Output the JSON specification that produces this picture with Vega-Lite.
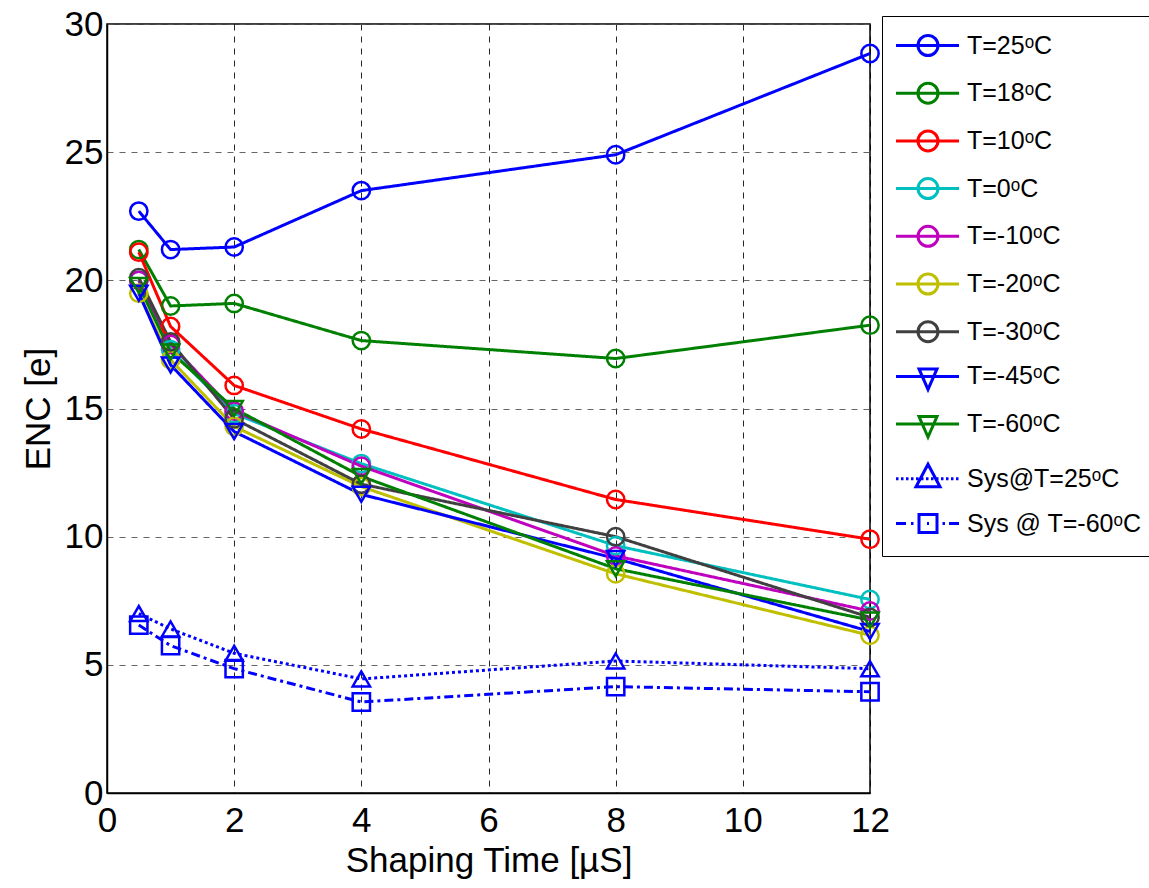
{
  "$schema": "https://vega.github.io/schema/vega-lite/v6.json",
  "width": 763,
  "height": 769,
  "autosize": {"type": "none"},
  "padding": {"left": 107, "top": 24, "right": 279, "bottom": 95},
  "background": "white",
  "config": {
    "font": "Liberation Sans",
    "view": {"stroke": "black", "strokeWidth": 1.5},
    "axis": {
      "labelFont": "Liberation Sans",
      "titleFont": "Liberation Sans",
      "labelFontSize": 35,
      "titleFontSize": 35,
      "titleFontWeight": "normal",
      "labelColor": "black",
      "titleColor": "black",
      "domainColor": "black",
      "domainWidth": 1.5,
      "ticks": false,
      "grid": true,
      "gridDash": [6, 6],
      "gridWidth": 1,
      "labelFlush": false,
      "format": "d"
    }
  },
  "data": {
    "values": [
      {"series": "T=25ᵒC", "t": 0.5, "enc": 22.7}, {"series": "T=25ᵒC", "t": 1, "enc": 21.2}, {"series": "T=25ᵒC", "t": 2, "enc": 21.3}, {"series": "T=25ᵒC", "t": 4, "enc": 23.5}, {"series": "T=25ᵒC", "t": 8, "enc": 24.9}, {"series": "T=25ᵒC", "t": 12, "enc": 28.85},
      {"series": "T=18ᵒC", "t": 0.5, "enc": 21.2}, {"series": "T=18ᵒC", "t": 1, "enc": 19.0}, {"series": "T=18ᵒC", "t": 2, "enc": 19.1}, {"series": "T=18ᵒC", "t": 4, "enc": 17.65}, {"series": "T=18ᵒC", "t": 8, "enc": 16.95}, {"series": "T=18ᵒC", "t": 12, "enc": 18.25},
      {"series": "T=10ᵒC", "t": 0.5, "enc": 21.1}, {"series": "T=10ᵒC", "t": 1, "enc": 18.2}, {"series": "T=10ᵒC", "t": 2, "enc": 15.9}, {"series": "T=10ᵒC", "t": 4, "enc": 14.2}, {"series": "T=10ᵒC", "t": 8, "enc": 11.45}, {"series": "T=10ᵒC", "t": 12, "enc": 9.9},
      {"series": "T=0ᵒC", "t": 0.5, "enc": 20.0}, {"series": "T=0ᵒC", "t": 1, "enc": 17.3}, {"series": "T=0ᵒC", "t": 2, "enc": 14.8}, {"series": "T=0ᵒC", "t": 4, "enc": 12.85}, {"series": "T=0ᵒC", "t": 8, "enc": 9.65}, {"series": "T=0ᵒC", "t": 12, "enc": 7.55},
      {"series": "T=-10ᵒC", "t": 0.5, "enc": 20.0}, {"series": "T=-10ᵒC", "t": 1, "enc": 17.5}, {"series": "T=-10ᵒC", "t": 2, "enc": 14.9}, {"series": "T=-10ᵒC", "t": 4, "enc": 12.75}, {"series": "T=-10ᵒC", "t": 8, "enc": 9.25}, {"series": "T=-10ᵒC", "t": 12, "enc": 7.1},
      {"series": "T=-20ᵒC", "t": 0.5, "enc": 19.5}, {"series": "T=-20ᵒC", "t": 1, "enc": 16.9}, {"series": "T=-20ᵒC", "t": 2, "enc": 14.3}, {"series": "T=-20ᵒC", "t": 4, "enc": 11.95}, {"series": "T=-20ᵒC", "t": 8, "enc": 8.55}, {"series": "T=-20ᵒC", "t": 12, "enc": 6.15},
      {"series": "T=-30ᵒC", "t": 0.5, "enc": 20.1}, {"series": "T=-30ᵒC", "t": 1, "enc": 17.6}, {"series": "T=-30ᵒC", "t": 2, "enc": 14.6}, {"series": "T=-30ᵒC", "t": 4, "enc": 12.05}, {"series": "T=-30ᵒC", "t": 8, "enc": 10.0}, {"series": "T=-30ᵒC", "t": 12, "enc": 6.85},
      {"series": "T=-45ᵒC", "t": 0.5, "enc": 19.5}, {"series": "T=-45ᵒC", "t": 1, "enc": 16.7}, {"series": "T=-45ᵒC", "t": 2, "enc": 14.1}, {"series": "T=-45ᵒC", "t": 4, "enc": 11.65}, {"series": "T=-45ᵒC", "t": 8, "enc": 9.15}, {"series": "T=-45ᵒC", "t": 12, "enc": 6.3},
      {"series": "T=-60ᵒC", "t": 0.5, "enc": 19.8}, {"series": "T=-60ᵒC", "t": 1, "enc": 17.2}, {"series": "T=-60ᵒC", "t": 2, "enc": 15.0}, {"series": "T=-60ᵒC", "t": 4, "enc": 12.35}, {"series": "T=-60ᵒC", "t": 8, "enc": 8.75}, {"series": "T=-60ᵒC", "t": 12, "enc": 6.75},
      {"series": "Sys@T=25ᵒC", "t": 0.5, "enc": 7.0}, {"series": "Sys@T=25ᵒC", "t": 1, "enc": 6.4}, {"series": "Sys@T=25ᵒC", "t": 2, "enc": 5.45}, {"series": "Sys@T=25ᵒC", "t": 4, "enc": 4.45}, {"series": "Sys@T=25ᵒC", "t": 8, "enc": 5.15}, {"series": "Sys@T=25ᵒC", "t": 12, "enc": 4.85},
      {"series": "Sys @ T=-60ᵒC", "t": 0.5, "enc": 6.55}, {"series": "Sys @ T=-60ᵒC", "t": 1, "enc": 5.75}, {"series": "Sys @ T=-60ᵒC", "t": 2, "enc": 4.85}, {"series": "Sys @ T=-60ᵒC", "t": 4, "enc": 3.55}, {"series": "Sys @ T=-60ᵒC", "t": 8, "enc": 4.15}, {"series": "Sys @ T=-60ᵒC", "t": 12, "enc": 3.95}
    ]
  },
  "layer": [
    {
      "mark": {"type": "line", "strokeWidth": 3},
      "encoding": {
        "x": {"field": "t", "type": "quantitative", "scale": {"domain": [0, 12], "nice": false}, "axis": {"values": [0, 2, 4, 6, 8, 10, 12], "title": "Shaping Time [µS]", "gridColor": "black", "gridOpacity": 0.85, "labelPadding": 10, "titlePadding": 5}},
        "y": {"field": "enc", "type": "quantitative", "scale": {"domain": [0, 30], "nice": false}, "axis": {"values": [0, 5, 10, 15, 20, 25, 30], "title": "ENC [e]", "gridColor": "#555555", "gridOpacity": 0.9, "labelPadding": 4, "titlePadding": 8}},
        "color": {"field": "series", "type": "nominal", "legend": null, "scale": {"domain": ["T=25ᵒC", "T=18ᵒC", "T=10ᵒC", "T=0ᵒC", "T=-10ᵒC", "T=-20ᵒC", "T=-30ᵒC", "T=-45ᵒC", "T=-60ᵒC", "Sys@T=25ᵒC", "Sys @ T=-60ᵒC"], "range": ["#0000ff", "#008000", "#ff0000", "#00bfbf", "#bf00bf", "#bfbf00", "#404040", "#0000ff", "#008000", "#0000ff", "#0000ff"]}},
        "strokeDash": {"field": "series", "type": "nominal", "legend": null, "scale": {"domain": ["T=25ᵒC", "T=18ᵒC", "T=10ᵒC", "T=0ᵒC", "T=-10ᵒC", "T=-20ᵒC", "T=-30ᵒC", "T=-45ᵒC", "T=-60ᵒC", "Sys@T=25ᵒC", "Sys @ T=-60ᵒC"], "range": [[1, 0], [1, 0], [1, 0], [1, 0], [1, 0], [1, 0], [1, 0], [1, 0], [1, 0], [3, 3], [9, 4, 3, 4]]}}
      }
    },
    {
      "mark": {"type": "point", "filled": false, "strokeWidth": 2.5, "size": 300, "opacity": 1},
      "encoding": {
        "x": {"field": "t", "type": "quantitative"},
        "y": {"field": "enc", "type": "quantitative"},
        "color": {"field": "series", "type": "nominal", "legend": null, "scale": {"domain": ["T=25ᵒC", "T=18ᵒC", "T=10ᵒC", "T=0ᵒC", "T=-10ᵒC", "T=-20ᵒC", "T=-30ᵒC", "T=-45ᵒC", "T=-60ᵒC", "Sys@T=25ᵒC", "Sys @ T=-60ᵒC"], "range": ["#0000ff", "#008000", "#ff0000", "#00bfbf", "#bf00bf", "#bfbf00", "#404040", "#0000ff", "#008000", "#0000ff", "#0000ff"]}},
        "shape": {"field": "series", "type": "nominal", "legend": null, "scale": {"domain": ["T=25ᵒC", "T=18ᵒC", "T=10ᵒC", "T=0ᵒC", "T=-10ᵒC", "T=-20ᵒC", "T=-30ᵒC", "T=-45ᵒC", "T=-60ᵒC", "Sys@T=25ᵒC", "Sys @ T=-60ᵒC"], "range": ["circle", "circle", "circle", "circle", "circle", "circle", "circle", "triangle-down", "triangle-down", "triangle-up", "square"]}}
      }
    },
    {
      "transform": [{"filter": "false"}],
      "mark": {"type": "point", "filled": false, "strokeWidth": 3, "opacity": 1},
      "encoding": {
        "color": {"field": "series", "type": "nominal",
          "scale": {"domain": ["T=25ᵒC", "T=18ᵒC", "T=10ᵒC", "T=0ᵒC", "T=-10ᵒC", "T=-20ᵒC", "T=-30ᵒC", "T=-45ᵒC", "T=-60ᵒC", "Sys@T=25ᵒC", "Sys @ T=-60ᵒC"], "range": ["#0000ff", "#008000", "#ff0000", "#00bfbf", "#bf00bf", "#bfbf00", "#404040", "#0000ff", "#008000", "#0000ff", "#0000ff"]},
          "legend": {"title": null, "orient": "none", "legendX": 775, "legendY": -8, "padding": 17, "strokeColor": "black", "fillColor": "white", "symbolSize": 400, "symbolStrokeWidth": 3, "symbolFillColor": "transparent", "labelFont": "Liberation Sans", "labelFontSize": 25, "labelColor": "black", "labelOffset": 43, "rowPadding": 14.7, "symbolLimit": 0, "labelLimit": 400}},
        "shape": {"field": "series", "type": "nominal",
          "scale": {"domain": ["T=25ᵒC", "T=18ᵒC", "T=10ᵒC", "T=0ᵒC", "T=-10ᵒC", "T=-20ᵒC", "T=-30ᵒC", "T=-45ᵒC", "T=-60ᵒC", "Sys@T=25ᵒC", "Sys @ T=-60ᵒC"], "range": [
            "M-1.55,0H4.75M2.65,0A1,1,0,1,1,0.65,0A1,1,0,1,1,2.65,0",
            "M-1.55,0H4.75M2.65,0A1,1,0,1,1,0.65,0A1,1,0,1,1,2.65,0",
            "M-1.55,0H4.75M2.65,0A1,1,0,1,1,0.65,0A1,1,0,1,1,2.65,0",
            "M-1.55,0H4.75M2.65,0A1,1,0,1,1,0.65,0A1,1,0,1,1,2.65,0",
            "M-1.55,0H4.75M2.65,0A1,1,0,1,1,0.65,0A1,1,0,1,1,2.65,0",
            "M-1.55,0H4.75M2.65,0A1,1,0,1,1,0.65,0A1,1,0,1,1,2.65,0",
            "M-1.55,0H4.75M2.65,0A1,1,0,1,1,0.65,0A1,1,0,1,1,2.65,0",
            "M-1.55,0H4.75M0.75,-0.75L2.55,-0.75L1.65,1.3Z",
            "M-1.55,0H4.75M0.75,-0.75L2.55,-0.75L1.65,1.3Z",
            "M-1.55,0h0.25M-1.05,0h0.25M-0.55,0h0.25M-0.05,0h0.25M0.45,0h0.25M0.95,0h0.25M1.45,0h0.25M1.95,0h0.25M2.45,0h0.25M2.95,0h0.25M3.45,0h0.25M3.95,0h0.25M4.45,0h0.25M0.45,0.8L2.85,0.8L1.65,-1.45Z",
            "M-1.55,0H-0.55M-0.05,0h0.25M1.55,0h0.2M3.1,0h0.25M3.75,0H4.75M0.75,-0.9H2.55V0.9H0.75Z"
          ]},
          "legend": {"title": null, "orient": "none", "legendX": 775, "legendY": -8, "padding": 17, "strokeColor": "black", "fillColor": "white", "symbolSize": 400, "symbolStrokeWidth": 3, "symbolFillColor": "transparent", "labelFont": "Liberation Sans", "labelFontSize": 25, "labelColor": "black", "labelOffset": 43, "rowPadding": 14.7, "symbolLimit": 0, "labelLimit": 400}}
      }
    }
  ],
  "resolve": {"scale": {"color": "independent", "shape": "independent", "strokeDash": "independent"}}
}
